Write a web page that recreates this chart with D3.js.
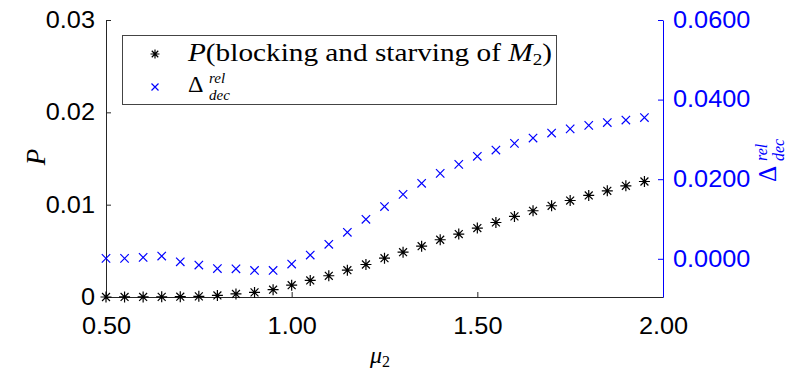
<!DOCTYPE html>
<html>
<head>
<meta charset="utf-8">
<script src="https://cdn.jsdelivr.net/npm/d3@7"></script>
<style>
  body { margin: 0; background: #fff; }
  svg { display: block; }
</style>
</head>
<body>
<div id="chart"></div>
<script>
// values
let mu2 = [0.50, 0.55, 0.60, 0.65, 0.70, 0.75, 0.80, 0.85, 0.90, 0.95,
  1.00, 1.05, 1.10, 1.15, 1.20, 1.25, 1.30, 1.35, 1.40, 1.45,
  1.50, 1.55, 1.60, 1.65, 1.70, 1.75, 1.80, 1.85, 1.90, 1.95];
let pBlockStarve = [0.000001, 0.000003, 0.000006, 0.000014, 0.00003, 0.00007, 0.00017, 0.00033, 0.00050, 0.00079,
  0.00128, 0.00179, 0.00230, 0.00290, 0.00352, 0.00420, 0.00485, 0.00550, 0.00620, 0.00682,
  0.00747, 0.00807, 0.00873, 0.00934, 0.00988, 0.01045, 0.01100, 0.01150, 0.01204, 0.01251];
let deltaRel = [0.0001, 0.0001, 0.00035, 0.00068, -0.00075, -0.00158, -0.00246, -0.00251, -0.00292, -0.00292,
  -0.00133, 0.00093, 0.00364, 0.00666, 0.00993, 0.01312, 0.01618, 0.01897, 0.02146, 0.02372,
  0.02576, 0.02732, 0.02900, 0.03033, 0.03159, 0.03264, 0.03352, 0.03423, 0.03486, 0.03548];

let xTicks = [0.5, 1.0, 1.5, 2.0];
let xTickLabels = ["0.50", "1.00", "1.50", "2.00"];
let leftTicks = [0, 0.01, 0.02, 0.03];
let leftTickLabels = ["0", "0.01", "0.02", "0.03"];
let rightTicks = [0, 0.02, 0.04, 0.06];
let rightTickLabels = ["0.0000", "0.0200", "0.0400", "0.0600"];

let width = 788;
let height = 371;
let plot = { left: 106, right: 663, top: 20, bottom: 297 };
let axisColor = "#262626";
let blue = "#0000ff";
let sansFont = "'Liberation Sans', Arial, sans-serif";
let serifFont = "'Liberation Serif', 'Times New Roman', serif";

// scales
let xScale = d3.scaleLinear().domain([0.5, 2.0]).range([plot.left, plot.right]);
let yLeft = d3.scaleLinear().domain([0, 0.03]).range([plot.bottom, plot.top]);
let yRight = d3.scaleLinear().domain([-0.0096, 0.06]).range([plot.bottom, plot.top]);

let svg = d3.select("#chart")
  .append("svg")
  .attr("width", width)
  .attr("height", height);

// axes
let xAxis = d3.axisBottom(xScale)
  .tickValues(xTicks)
  .tickFormat((d, i) => xTickLabels[i])
  .tickSize(-5)
  .tickSizeOuter(0)
  .tickPadding(21);
let leftAxis = d3.axisLeft(yLeft)
  .tickValues(leftTicks)
  .tickFormat((d, i) => leftTickLabels[i])
  .tickSize(-5)
  .tickSizeOuter(0)
  .tickPadding(11);
let rightAxis = d3.axisRight(yRight)
  .tickValues(rightTicks)
  .tickFormat((d, i) => rightTickLabels[i])
  .tickSize(-5)
  .tickSizeOuter(0)
  .tickPadding(10);

let gx = svg.append("g")
  .attr("transform", `translate(0, ${plot.bottom})`)
  .call(xAxis);
let gl = svg.append("g")
  .attr("transform", `translate(${plot.left}, 0)`)
  .call(leftAxis);
let gr = svg.append("g")
  .attr("transform", `translate(${plot.right}, 0)`)
  .call(rightAxis);

[gx, gl].forEach(g => {
  g.select(".domain").attr("stroke", axisColor);
  g.selectAll(".tick line").attr("stroke", axisColor);
  g.selectAll(".tick text").attr("fill", "#000");
});
gr.select(".domain").attr("stroke", blue);
gr.selectAll(".tick line").attr("stroke", blue);
gr.selectAll(".tick text").attr("fill", blue);

// the reference digits are a bit wider than Arial
svg.selectAll(".tick text")
  .attr("font-family", sansFont)
  .attr("font-size", 23)
  .each(function() {
    let w = this.getComputedTextLength();
    d3.select(this)
      .attr("textLength", w * 1.1)
      .attr("lengthAdjust", "spacingAndGlyphs");
  });

// marker shapes
function starPath(r) {
  let d = r * 0.72;
  return `M${-r},0L${r},0M0,${-r}L0,${r}M${-d},${-d}L${d},${d}M${-d},${d}L${d},${-d}`;
}
function crossPath(r) {
  return `M${-r},${-r}L${r},${r}M${-r},${r}L${r},${-r}`;
}

// data points: P on the left axis
svg.append("g")
  .selectAll(".pValue")
  .data(mu2.map((m, i) => i))
  .enter()
  .append("path")
  .attr("class", "pValue")
  .attr("transform", i => `translate(${xScale(mu2[i])}, ${yLeft(pBlockStarve[i])})`)
  .attr("d", starPath(5.5))
  .attr("fill", "none")
  .attr("stroke", "#000")
  .attr("stroke-width", 1.2);

// data points: relative delta on the right axis
svg.append("g")
  .selectAll(".deltaValue")
  .data(mu2.map((m, i) => i))
  .enter()
  .append("path")
  .attr("class", "deltaValue")
  .attr("transform", i => `translate(${xScale(mu2[i])}, ${yRight(deltaRel[i])})`)
  .attr("d", crossPath(4.2))
  .attr("fill", "none")
  .attr("stroke", blue)
  .attr("stroke-width", 1.2);

// axis labels
svg.append("text")
  .attr("transform", "translate(45, 157) rotate(-90)")
  .attr("text-anchor", "middle")
  .attr("font-family", serifFont)
  .attr("font-style", "italic")
  .attr("font-size", 27)
  .attr("fill", "#000")
  .text("P");

let muLabel = svg.append("text")
  .attr("x", 370)
  .attr("y", 363)
  .attr("font-family", serifFont)
  .attr("font-size", 24)
  .attr("fill", "#000");
muLabel.append("tspan").attr("font-style", "italic").text("μ");
muLabel.append("tspan").attr("font-size", 16).attr("dy", 4).text("2");

// Δ with rel above and dec below, as one text
function deltaLabel(sel, x0, y0, big, small) {
  let t = sel.append("text")
    .attr("x", x0)
    .attr("y", y0)
    .attr("font-family", serifFont)
    .attr("font-size", big);
  t.append("tspan").text("Δ");
  t.append("tspan").attr("x", x0 + 21).attr("y", y0 - 9)
    .attr("font-size", small).attr("font-style", "italic").text("rel");
  t.append("tspan").attr("x", x0 + 21).attr("y", y0 + 8)
    .attr("font-size", small).attr("font-style", "italic").text("dec");
  return t;
}

// right label
let rightLabel = svg.append("g")
  .attr("transform", "translate(776, 182) rotate(-90)")
  .attr("fill", blue);
deltaLabel(rightLabel, 0, 0, 25, 16);

// legend
let legend = svg.append("g");
legend.append("rect")
  .attr("x", 122.5)
  .attr("y", 35.5)
  .attr("width", 434)
  .attr("height", 69)
  .attr("fill", "#fff")
  .attr("stroke", "#444")
  .attr("stroke-width", 1);

legend.append("path")
  .attr("transform", "translate(155, 54)")
  .attr("d", starPath(4.5))
  .attr("fill", "none")
  .attr("stroke", "#000")
  .attr("stroke-width", 1.2);
legend.append("path")
  .attr("transform", "translate(155, 87)")
  .attr("d", crossPath(3.5))
  .attr("fill", "none")
  .attr("stroke", blue)
  .attr("stroke-width", 1.2);

let legendText1 = legend.append("text")
  .attr("x", 188)
  .attr("y", 61)
  .attr("font-family", serifFont)
  .attr("font-size", 26)
  .attr("fill", "#000")
  .attr("textLength", 364)
  .attr("lengthAdjust", "spacingAndGlyphs");
legendText1.append("tspan").attr("font-style", "italic").text("P");
legendText1.append("tspan").text("(blocking and starving of ");
legendText1.append("tspan").attr("font-style", "italic").text("M");
legendText1.append("tspan").attr("font-size", 17).attr("dy", 4).text("2");
legendText1.append("tspan").attr("dy", -4).text(")");

let legendRow2 = legend.append("g").attr("fill", "#000");
deltaLabel(legendRow2, 188, 92, 24, 15);
</script>
</body>
</html>
